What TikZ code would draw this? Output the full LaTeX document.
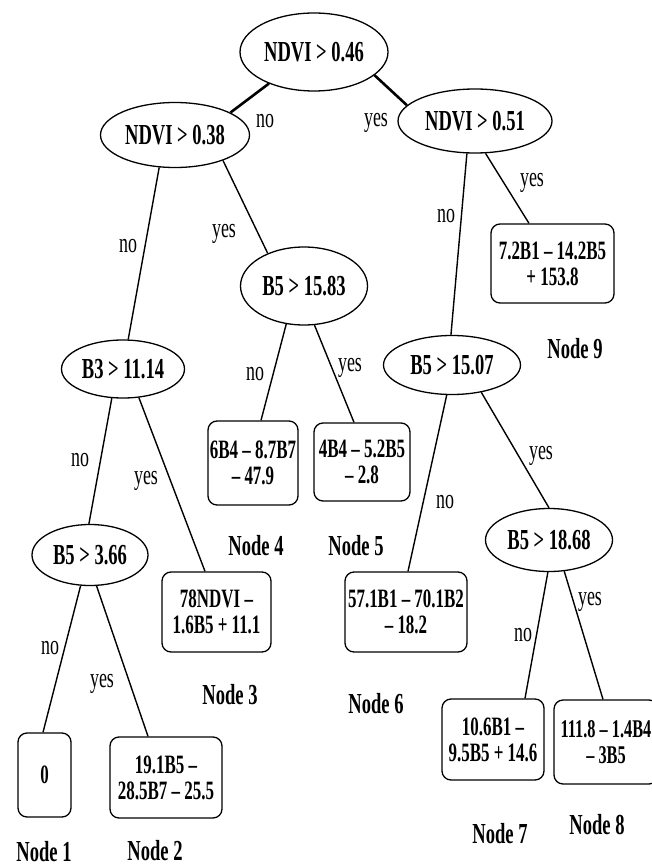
\documentclass[tikz,border=0pt]{standalone}
\usepackage{fontspec}
\setmainfont{Liberation Serif}[FakeStretch=0.64]
\usetikzlibrary{shapes.geometric}
\begin{document}
\begin{tikzpicture}[x=1pt,y=-1pt,
  cond/.style={ellipse,draw,line width=1.3pt,inner sep=0pt,font=\fontsize{29}{30}\selectfont\bfseries},
  leaf/.style={draw,line width=1.3pt,rounded corners=9pt,inner sep=0pt,align=center,font=\fontsize{26.5}{26}\selectfont\bfseries},
  tag/.style={font=\fontsize{29}{30}\selectfont\bfseries,anchor=base,inner sep=0pt},
  ans/.style={font=\fontsize{28}{30}\selectfont,anchor=base,inner sep=0pt},
  edge/.style={line width=1.4pt},
  trunk/.style={line width=2.6pt}]
\useasboundingbox (0,0) rectangle (652,866);
\clip (0,0) rectangle (652,866);
% decision nodes
\node[cond,minimum width=148pt,minimum height=78pt] (r) at (314,52) {NDVI > 0.46};
\node[cond,minimum width=149pt,minimum height=65pt] (a) at (175,135) {NDVI > 0.38};
\node[cond,minimum width=154pt,minimum height=64pt] (b) at (475,121) {NDVI > 0.51};
\node[cond,minimum width=127pt,minimum height=78pt] (c) at (304,286) {B5 > 15.83};
\node[cond,minimum width=123pt,minimum height=58pt] (d) at (123,369) {B3 > 11.14};
\node[cond,minimum width=137pt,minimum height=59pt] (e) at (452,365) {B5 > 15.07};
\node[cond,minimum width=116pt,minimum height=61pt] (f) at (90,555) {B5 > 3.66};
\node[cond,minimum width=127pt,minimum height=63pt] (g) at (549,540) {B5 > 18.68};
% leaves
\node[leaf,minimum width=123pt,minimum height=79pt] (l9) at (552.5,263.5) {7.2B1 – 14.2B5\\+ 153.8};
\node[leaf,minimum width=90pt,minimum height=84pt] (l4) at (253,463) {6B4 – 8.7B7\\– 47.9};
\node[leaf,minimum width=96pt,minimum height=78pt] (l5) at (362,462) {4B4 – 5.2B5\\– 2.8};
\node[leaf,minimum width=109pt,minimum height=80pt] (l3) at (216.5,612) {78NDVI –\\1.6B5 + 11.1};
\node[leaf,minimum width=122pt,minimum height=80pt] (l6) at (406,612) {57.1B1 – 70.1B2\\– 18.2};
\node[leaf,minimum width=53pt,minimum height=84pt] (l1) at (44.5,775) {0};
\node[leaf,minimum width=112pt,minimum height=81pt] (l2) at (166,777.5) {19.1B5 –\\28.5B7 – 25.5};
\node[leaf,minimum width=102pt,minimum height=81pt] (l7) at (493,739.5) {10.6B1 –\\9.5B5 + 14.6};
\node[leaf,minimum width=104pt,minimum height=84pt,font=\fontsize{25.5}{26}\selectfont\bfseries] (l8) at (606,742) {111.8 – 1.4B4\\– 3B5};
% node tags
\node[tag] (t1) at (44,861) {Node 1};
\node[tag] (t2) at (155,860) {Node 2};
\node[tag] (t3) at (230,704) {Node 3};
\node[tag] (t4) at (256,555) {Node 4};
\node[tag] (t5) at (356,555) {Node 5};
\node[tag] (t6) at (376,713) {Node 6};
\node[tag] (t7) at (500,843) {Node 7};
\node[tag] (t8) at (597,834) {Node 8};
\node[tag] (t9) at (575,358) {Node 9};
% connectors
\draw[trunk] (r.215) -- (a.22);
\draw[trunk] (r.339) -- (b.167);
\draw[edge] (a.244) -- (d.80);
\draw[edge] (a.332) -- (c.138);
\draw[edge] (b.256) -- (e.92);
\draw[edge] (b.288) -- ([xshift=-23.5pt]l9.north);
\draw[edge] (c.245) -- ([xshift=8pt]l4.north);
\draw[edge] (c.285) -- ([xshift=-8pt]l5.north);
\draw[edge] (d.249) -- (f.92);
\draw[edge] (d.299) -- ([xshift=-11.5pt]l3.north);
\draw[edge] (e.260) -- ([xshift=2pt]l6.north);
\draw[edge] (e.317) -- (g.90);
\draw[edge] (f.253) -- ([xshift=-1.5pt]l1.north);
\draw[edge] (f.282) -- ([xshift=-18pt]l2.north);
\draw[edge] (g.268) -- ([xshift=32pt]l7.north);
\draw[edge] (g.296) -- ([xshift=-3pt]l8.north);
% answers
\node[ans] (q1) at (265,128) {no};
\node[ans] (q2) at (376,127) {yes};
\node[ans] (q3) at (128,253) {no};
\node[ans] (q4) at (224,238) {yes};
\node[ans] (q5) at (446,223) {no};
\node[ans] (q6) at (532,187) {yes};
\node[ans] (q7) at (80,466) {no};
\node[ans] (q8) at (146,484) {yes};
\node[ans] (q9) at (255,380) {no};
\node[ans] (q10) at (350,371) {yes};
\node[ans] (q11) at (445,508) {no};
\node[ans] (q12) at (541,459) {yes};
\node[ans] (q13) at (50,654) {no};
\node[ans] (q14) at (102,687) {yes};
\node[ans] (q15) at (523,641) {no};
\node[ans] (q16) at (590,605) {yes};
\end{tikzpicture}
\end{document}
